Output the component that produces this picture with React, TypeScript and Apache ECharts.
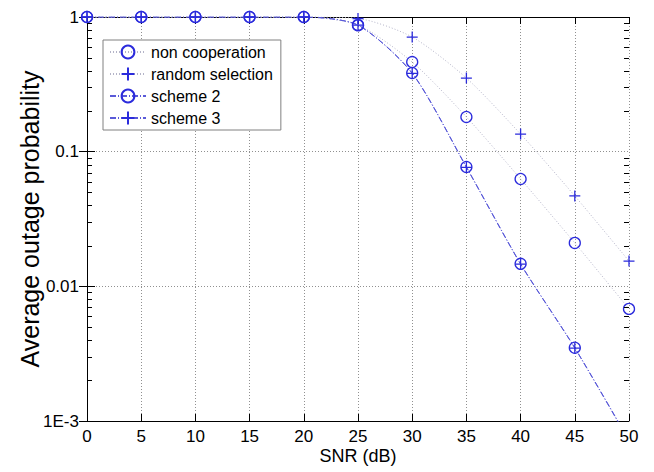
import React, { useEffect, useRef } from "react";
import * as echarts from "echarts";

const snr = [0, 5, 10, 15, 20, 25, 30, 35, 40, 45, 50];
const nonCooperation = [1, 1, 1, 1, 1, 0.87, 0.463, 0.181, 0.0627, 0.021, 0.0068];
const randomSelection = [1, 1, 1, 1, 1, 0.975, 0.71, 0.352, 0.135, 0.0469, 0.0154];
const scheme2 = [1, 1, 1, 1, 1, 0.87, 0.384, 0.077, 0.0147, 0.0035, 0.00072];
const scheme3 = [1, 1, 1, 1, 1, 0.87, 0.381, 0.0765, 0.0146, 0.00348, 0.00071];
const xTicks = [0, 5, 10, 15, 20, 25, 30, 35, 40, 45, 50];
const yMinorTicks = [
  0.002, 0.003, 0.004, 0.005, 0.006, 0.007, 0.008, 0.009,
  0.02, 0.03, 0.04, 0.05, 0.06, 0.07, 0.08, 0.09,
  0.2, 0.3, 0.4, 0.5, 0.6, 0.7, 0.8, 0.9,
];

const FONT = "'Liberation Sans', Arial, sans-serif";
const MARK = "#2b2bdc";
const PLUS = "path://M0,5L10,5M5,0L5,10";

function fmtY(v: number): string {
  if (Math.abs(v - 0.001) < 1e-9) return "1E-3";
  if (Math.abs(v - 0.01) < 1e-9) return "0.01";
  if (Math.abs(v - 0.1) < 1e-9) return "0.1";
  if (Math.abs(v - 1) < 1e-9) return "1";
  return String(v);
}

export default function App() {
  const ref = useRef<HTMLDivElement>(null);
  useEffect(() => {
    if (!ref.current) return;
    const chart = echarts.init(ref.current, undefined, { renderer: "svg" });
    const pair = (ys: number[]) => snr.map((x, i) => [x, ys[i]]);
    const dotted = { color: "#b4b4c8", width: 1, type: [1, 2] as any };
    const dashDot = { color: "#5a5ad8", width: 1, type: [6, 2, 1, 2] as any };
    const circleStyle = { color: "rgba(0,0,0,0)", borderColor: MARK, borderWidth: 1.3 };
    const plusStyle = { color: "rgba(0,0,0,0)", borderColor: MARK, borderWidth: 1.3 };
    chart.setOption({
      animation: false,
      backgroundColor: "#fff",
      textStyle: { fontFamily: FONT },
      grid: { left: 87, right: 25, top: 17, bottom: 51, show: false, containLabel: false, outerBoundsMode: "none" },
      legend: {
        orient: "vertical",
        left: 103,
        top: 40,
        itemWidth: 36,
        itemHeight: 16,
        itemGap: 6,
        padding: [4, 8, 4, 6],
        borderColor: "#808080",
        borderWidth: 1,
        backgroundColor: "#fff",
        textStyle: { fontSize: 16, color: "#000", fontFamily: FONT },
        data: ["non cooperation", "random selection", "scheme 2", "scheme 3"],
      },
      xAxis: [
        {
          type: "value",
          min: 0,
          max: 50,
          interval: 5,
          name: "SNR (dB)",
          nameLocation: "middle",
          nameGap: 26,
          nameMoveOverlap: false,
          nameTextStyle: { fontSize: 18, color: "#000", fontFamily: FONT },
          axisLine: { show: true, lineStyle: { color: "#000", width: 1 } },
          axisTick: { show: true, inside: true, length: 7, lineStyle: { color: "#000" } },
          axisLabel: { fontSize: 17, color: "#000", margin: 7, fontFamily: FONT },
          splitLine: { show: true, lineStyle: { color: "#909090", type: [1, 2], width: 1 } },
        },
        {
          type: "value",
          position: "top",
          min: 0,
          max: 50,
          interval: 5,
          axisLine: { show: true, lineStyle: { color: "#000", width: 1 } },
          axisTick: { show: true, inside: true, length: 7, lineStyle: { color: "#000" } },
          axisLabel: { show: false },
          splitLine: { show: false },
        },
      ],
      yAxis: [
        {
          type: "log",
          logBase: 10,
          min: 0.001,
          max: 1,
          name: "Average outage probability",
          nameLocation: "middle",
          nameGap: 45,
          nameMoveOverlap: false,
          nameTextStyle: { fontSize: 25, color: "#000", fontFamily: FONT },
          axisLine: { show: true, lineStyle: { color: "#000", width: 1 } },
          axisTick: { show: true, inside: true, length: 8, lineStyle: { color: "#000" } },
          axisLabel: { fontSize: 17, color: "#000", margin: 8, formatter: fmtY, fontFamily: FONT },
          splitLine: { show: true, lineStyle: { color: "#909090", type: [1, 2], width: 1 } },
        },
        {
          type: "log",
          logBase: 10,
          min: 0.001,
          max: 1,
          position: "right",
          axisLine: { show: true, lineStyle: { color: "#000", width: 1 } },
          axisTick: { show: true, inside: true, length: 8, lineStyle: { color: "#000" } },
          axisLabel: { show: false },
          splitLine: { show: false },
        },
      ],
      series: [
        {
          name: "non cooperation",
          type: "line",
          data: pair(nonCooperation),
          smooth: 0.25,
          symbol: "circle",
          symbolSize: 11,
          lineStyle: dotted,
          itemStyle: circleStyle,
          z: 3,
        },
        {
          name: "random selection",
          type: "line",
          data: pair(randomSelection),
          smooth: 0.25,
          symbol: PLUS,
          symbolSize: 11,
          lineStyle: dotted,
          itemStyle: plusStyle,
          z: 3,
        },
        {
          name: "scheme 2",
          type: "line",
          data: pair(scheme2),
          smooth: 0.25,
          symbol: "circle",
          symbolSize: 11,
          lineStyle: dashDot,
          itemStyle: circleStyle,
          z: 4,
        },
        {
          name: "scheme 3",
          type: "line",
          data: pair(scheme3),
          smooth: 0.25,
          symbol: PLUS,
          symbolSize: 11,
          lineStyle: dashDot,
          itemStyle: plusStyle,
          z: 4,
        },
        {
          name: "minor",
          type: "custom",
          silent: true,
          clip: false,
          z: 5,
          data: yMinorTicks.map((v) => [xTicks[0], v]),
          renderItem: (params: any, api: any) => {
            const v = api.value(1);
            const l = api.coord([xTicks[0], v]);
            const r = api.coord([xTicks[xTicks.length - 1], v]);
            const y = Math.round(l[1]) + 0.5;
            return {
              type: "group",
              children: [
                { type: "line", shape: { x1: l[0], y1: y, x2: l[0] + 5, y2: y }, style: { stroke: "#000", lineWidth: 1 } },
                { type: "line", shape: { x1: r[0] - 5, y1: y, x2: r[0], y2: y }, style: { stroke: "#000", lineWidth: 1 } },
              ],
            };
          },
        },
      ],
    });
    return () => chart.dispose();
  }, []);
  return <div ref={ref} style={{ width: 654, height: 472, position: "absolute", left: 0, top: 0 }} />;
}
